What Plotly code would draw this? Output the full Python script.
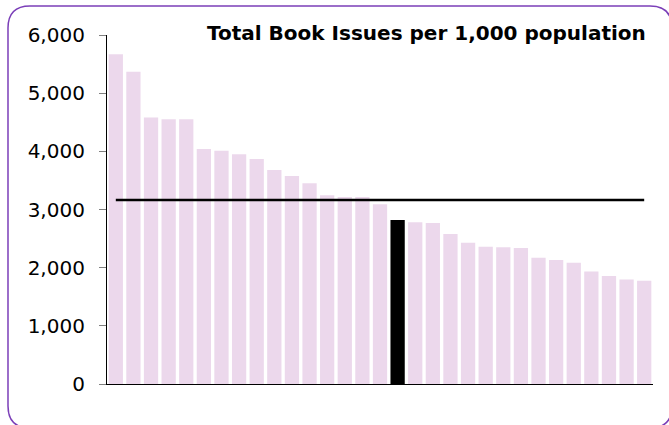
import plotly.graph_objects as go

# Data
authorities = [f"Authority {i}" for i in range(1, 32)]
issues_per_1000 = [5670, 5370, 4580, 4550, 4550, 4040, 4010, 3950, 3870, 3680,
                   3575, 3450, 3245, 3215, 3215, 3090, 2820, 2780, 2770, 2580,
                   2430, 2360, 2350, 2340, 2170, 2130, 2085, 1935, 1855, 1795, 1775]
highlight_index = 16
average_value = 3165
y_ticks = [0, 1000, 2000, 3000, 4000, 5000, 6000]
y_tick_labels = ["0", "1,000", "2,000", "3,000", "4,000", "5,000", "6,000"]
title_text = "Total Book Issues per 1,000 population"

W, H = 669, 425
SX0, SX1, SY0, SY1 = 107, 653, 35, 384
L, T = SX0, SY0
PW, PH = SX1 - SX0, SY1 - SY0
R = W - L - PW
B = H - T - PH

bar_colors = ["#000000" if i == highlight_index else "#ECD8EC" for i in range(len(issues_per_1000))]

fig = go.Figure()
fig.add_trace(go.Bar(
    x=authorities, y=issues_per_1000,
    marker=dict(color=bar_colors, line=dict(width=0)),
    showlegend=False, hoverinfo="x+y",
))
fig.add_trace(go.Scatter(
    x=authorities, y=[average_value] * len(authorities),
    mode="lines", line=dict(color="#000000", width=2.5),
    showlegend=False,
))

def px_to_paper_x(px):
    return (px - SX0) / PW

def px_to_paper_y(py):
    return (SY1 - py) / PH

# rounded border of the chart area (pixels, converted to paper)
x0, x1, y0, y1, r = 8, 672, 6, 428, 22
pts = [
    ("M", (x0 + r, y0)), ("L", (x1 - r, y0)), ("Q", (x1, y0), (x1, y0 + r)),
    ("L", (x1, y1 - r)), ("Q", (x1, y1), (x1 - r, y1)), ("L", (x0 + r, y1)),
    ("Q", (x0, y1), (x0, y1 - r)), ("L", (x0, y0 + r)), ("Q", (x0, y0), (x0 + r, y0)),
]
path = ""
for item in pts:
    cmd = item[0]
    coords = " ".join(f"{px_to_paper_x(p[0]):.5f},{px_to_paper_y(p[1]):.5f}" for p in item[1:])
    path += f"{cmd}{coords} "
path += "Z"

fig.add_shape(type="path", path=path, xref="paper", yref="paper",
              line=dict(color="#7B3FB8", width=1.5), layer="below")

fig.add_annotation(
    text=f"<b>{title_text}</b>", xref="paper", yref="paper",
    x=px_to_paper_x(648), y=px_to_paper_y(33), xanchor="right", yanchor="middle",
    showarrow=False, font=dict(family="DejaVu Sans", size=20, color="#000000"),
)

fig.update_layout(
    width=W, height=H,
    margin=dict(l=L, r=R, t=T, b=B),
    paper_bgcolor="#FFFFFF", plot_bgcolor="#FFFFFF",
    bargap=0.19,
    font=dict(family="DejaVu Sans", color="#000000"),
)
fig.update_xaxes(showticklabels=False, ticks="", showline=True, linecolor="#000000",
                 linewidth=1.2, showgrid=False, zeroline=False, fixedrange=True)
fig.update_yaxes(range=[0, 6000], tickvals=y_ticks, ticktext=y_tick_labels,
                 ticks="outside", ticklen=7, tickcolor="#808080", tickwidth=1,
                 showline=True, linecolor="#000000", linewidth=1.2,
                 showgrid=False, zeroline=False, tickfont=dict(size=20, family="DejaVu Sans"),
                 ticklabelstandoff=10)

fig.write_html("out.html", config={"displayModeBar": False},
               post_script="document.body.style.margin='0';document.body.style.overflow='hidden';")
